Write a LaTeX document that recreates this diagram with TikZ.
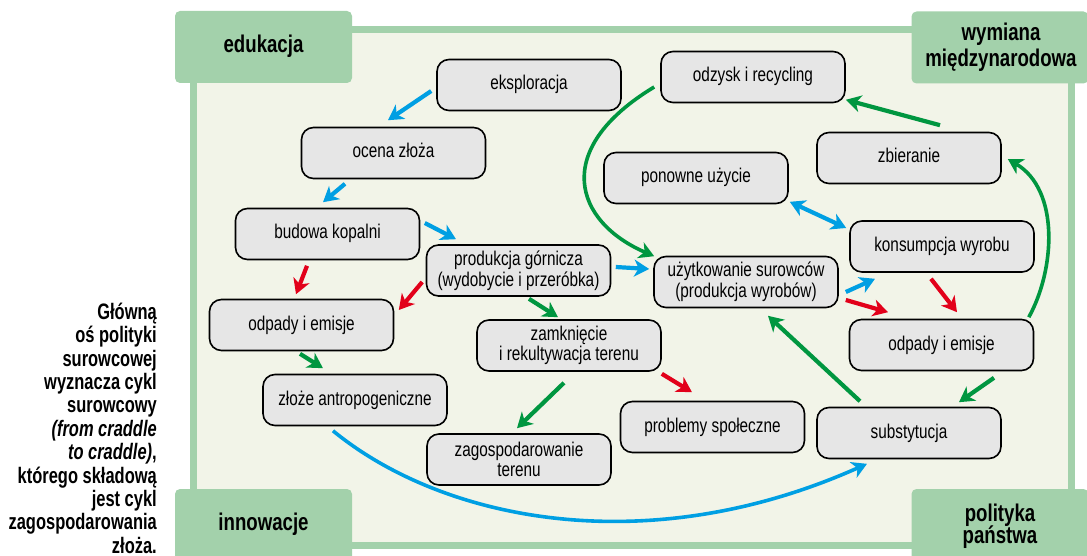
\documentclass[tikz,border=0pt]{standalone}
\usepackage{fontspec}
\setmainfont{Liberation Sans}[FakeStretch=0.77]
\newfontfamily\sidefont{Liberation Sans}[FakeStretch=0.735]
\usetikzlibrary{arrows.meta,calc}
\definecolor{frameg}{RGB}{163,209,171}
\definecolor{bgc}{RGB}{242,244,232}
\definecolor{boxg}{RGB}{230,230,230}
\definecolor{ablue}{RGB}{0,159,227}
\definecolor{ared}{RGB}{226,0,26}
\definecolor{agreen}{RGB}{0,150,64}
\begin{document}
\begin{tikzpicture}[x=1pt,y=-1pt,
  basebox/.style={draw=black, line width=1.6pt, fill=boxg, rounded corners=12pt,
    minimum width=184pt, minimum height=51pt, inner sep=0pt, align=center,
    font=\fontsize{19.9}{20.7}\selectfont},
  box/.style={basebox, text height=14.2pt, text depth=4.2pt},
  box2/.style={basebox},
  cornerbox/.style={fill=frameg, rounded corners=5pt, minimum width=177pt,
    minimum height=72pt, inner sep=0pt},
  clabel/.style={anchor=base, inner sep=0pt, font=\bfseries\fontsize{24.2}{26}\selectfont},
  side/.style={anchor=base east, inner sep=0pt, font=\sidefont\bfseries\fontsize{22.4}{24}\selectfont},
  head/.style={-{Stealth[length=15pt,width=17pt,inset=4.5pt]}},
  sarr/.style={head, line width=4.2pt},
  carr/.style={head, line width=3.6pt},
]
\useasboundingbox (0,0) rectangle (1087,556);
\clip (0,0) rectangle (1087,556);
\fill[white] (0,0) rectangle (1087,556);

% frame
\draw[frameg, line width=7pt, fill=bgc] (193.5,30) rectangle (1071.5,545);

% corner boxes
\node[cornerbox] (edu) at (263.5,47) {};
\node[cornerbox] (wym) at (1000,47.5) {};
\node[cornerbox] (inn) at (263.5,525) {};
\node[cornerbox] (pol) at (1000,525) {};
\node[clabel] (edut) at (263.5,53) {edukacja};
\node[clabel] (wymt1) at (1001,41) {wymiana};
\node[clabel] (wymt2) at (1001,66.5) {międzynarodowa};
\node[clabel] (innt) at (263.5,530.5) {innowacje};
\node[clabel] (polt1) at (1000,521) {polityka};
\node[clabel] (polt2) at (1000,543) {państwa};

% side text
\node[side] (s1) at (157,319.3) {Główną};
\node[side] (s2) at (157,342.7) {oś polityki};
\node[side] (s3) at (157,366.1) {surowcowej};
\node[side] (s4) at (157,389.5) {wyznacza cykl};
\node[side] (s5) at (157,412.9) {surowcowy};
\node[side] (s6) at (157,436.3) {\textit{(from craddle}};
\node[side] (s7) at (157,459.7) {\textit{to craddle)},};
\node[side] (s8) at (157,483.1) {którego składową};
\node[side] (s9) at (157,506.5) {jest cykl};
\node[side] (s10) at (157,529.9) {zagospodarowania};
\node[side] (s11) at (157,553.3) {złoża.};

% boxes
\node[box] (eks) at (529,85) {eksploracja};
\node[box] (ocena) at (393.5,153) {ocena złoża};
\node[box] (budowa) at (327.5,234) {budowa kopalni};
\node[box2] (prod) at (518.5,270.5) {produkcja górnicza\\(wydobycie i przeróbka)};
\node[box] (odpL) at (301.5,325) {odpady i emisje};
\node[box] (zloze) at (355,400) {złoże antropogeniczne};
\node[box2] (zamk) at (569,345.5) {zamknięcie\\i rekultywacja terenu};
\node[box2] (zagosp) at (519,459.5) {zagospodarowanie\\terenu};
\node[box] (probl) at (712.5,427) {problemy społeczne};
\node[box] (subst) at (909,433) {substytucja};
\node[box] (odpR) at (941.5,345) {odpady i emisje};
\node[box] (odzysk) at (753,77) {odzysk i recycling};
\node[box] (zbier) at (909,158) {zbieranie};
\node[box] (ponown) at (696,178) {ponowne użycie};
\node[box] (konsum) at (942,246.5) {konsumpcja wyrobu};
\node[box2] (uzytk) at (746,282) {użytkowanie surowców\\(produkcja wyrobów)};

% straight arrows
\draw[sarr, ablue] ($(eks.west)+(-5,6)$) -- ($(ocena.north)+(-5.5,-6.5)$);
\draw[sarr, ablue] ($(ocena.south)+(-48.5,4.5)$) -- ($(budowa.north)+(-4.5,-5.5)$);
\draw[sarr, ablue] ($(budowa.east)+(4.5,-11)$) -- ($(prod.north)+(-62.5,-5)$);
\draw[sarr, ared] ($(budowa.south)+(-20.5,5.5)$) -- ($(odpL.north)+(-5.5,-4.5)$);
\draw[sarr, ared] ($(prod.west)+(-3.5,11.5)$) -- ($(odpL.east)+(4.5,-15)$);
\draw[sarr, agreen] ($(odpL.south)+(-1.5,2.5)$) -- ($(zloze.north)+(-32,-5.5)$);
\draw[sarr, agreen] ($(prod.south)+(10.5,2)$) -- ($(zamk.north)+(-11,-2)$);
\draw[sarr, agreen] ($(zamk.south)+(-5,11)$) -- ($(zagosp.north)+(-2,-5)$);
\draw[sarr, ared] ($(zamk.south east)+(0,2)$) -- ($(probl.north)+(-20.5,-8.5)$);
\draw[sarr, ablue] ($(prod.east)+(4.5,-3.5)$) -- ($(uzytk.west)+(-4,-13)$);
\draw[sarr, agreen] ($(zbier.north)+(31,-6.5)$) -- ($(odzysk.south east)+(0,-3.5)$);
\draw[line width=4.2pt, ablue, {Stealth[length=15pt,width=17pt,inset=4.5pt]}-{Stealth[length=15pt,width=17pt,inset=4.5pt]}]
  ($(ponown.south east)+(1,-2.5)$) -- ($(konsum.west)+(-3,-18.5)$);
\draw[sarr, ablue] ($(uzytk.east)+(7,10)$) -- ($(konsum.south)+(-67,6)$);
\draw[sarr, ared] ($(uzytk.east)+(7,18)$) -- ($(odpR.north)+(-53.5,-6.5)$);
\draw[sarr, ared] ($(konsum.south)+(-11,6)$) -- ($(odpR.north)+(15.5,-6.5)$);
\draw[sarr, agreen] ($(odpR.south)+(52.5,6.5)$) -- ($(subst.north)+(50,-4.5)$);
\draw[sarr, agreen] ($(subst.north)+(-49,-5.5)$) -- ($(uzytk.south)+(22,7.5)$);

% curved arrows
\draw[carr, agreen] ($(odzysk.west)+(-6,10)$) .. controls (550,150) and (575,222) .. ($(uzytk.north west)+(1,0.5)$);
\draw[carr, agreen] ($(odpR.north east)+(-5.5,-1.5)$) .. controls (1055,270) and (1060,190) .. ($(zbier.east)+(6,1)$);
\draw[carr, ablue] ($(zloze.south)+(-22,4.5)$) .. controls (443,521) and (647,562) .. ($(subst.south)+(-42,4.5)$);
\end{tikzpicture}
\end{document}
